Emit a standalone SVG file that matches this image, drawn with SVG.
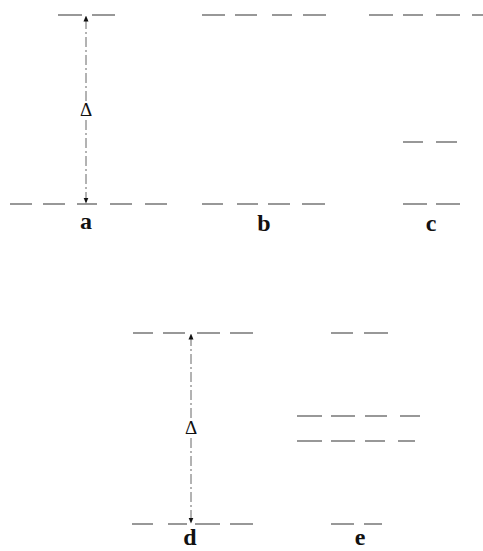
<svg xmlns="http://www.w3.org/2000/svg" width="483" height="551" viewBox="0 0 483 551">
<style>
.lv{stroke:#333;stroke-width:1.2;fill:none}
.ar{stroke:#555;stroke-width:0.9;stroke-dasharray:10 3 2 3;fill:none}
.lb{font-family:"Liberation Serif","DejaVu Serif",serif;font-size:24px;font-weight:bold;text-anchor:middle;fill:#111}
.dl{font-family:"Liberation Serif","DejaVu Serif",serif;font-size:19px;text-anchor:middle;fill:#111}
</style>
<defs>
<marker id="ah" viewBox="0 0 6 6" refX="5.5" refY="3" markerWidth="6" markerHeight="6" orient="auto-start-reverse" markerUnits="userSpaceOnUse">
<path d="M0,0.5 L6,3 L0,5.5 z" fill="#111"/>
</marker>
</defs>
<g id="a">
<path class="lv" d="M58,15H82M92,15H115"/>
<path class="lv" d="M10,204H32M43,204H65M77,204H97M110,204H132M145,204H167"/>
<text class="lb" x="86" y="229">a</text>
</g>
<g id="b">
<path class="lv" d="M202,15H225M235,15H257M272,15H292M303,15H326"/>
<path class="lv" d="M202,204H223M237,204H258M268,204H290M302,204H325"/>
<text class="lb" x="264" y="231">b</text>
</g>
<g id="c">
<path class="lv" d="M369,15H393M403,15H423M436,15H460M472,15H483"/>
<path class="lv" d="M403,142H423M436,142H457"/>
<path class="lv" d="M403,204H427M436,204H460"/>
<text class="lb" x="431" y="231">c</text>
</g>
<g id="d">
<path class="lv" d="M133,333H153M163,333H185M197,333H220M230,333H253"/>
<path class="lv" d="M132,524H153M168,524H187M195,524H220M230,524H253"/>
<text class="lb" x="190" y="545">d</text>
</g>
<g id="e">
<path class="lv" d="M331,333H353M364,333H388"/>
<path class="lv" d="M297,416H322M331,416H355M365,416H387M400,416H420"/>
<path class="lv" d="M297,441H322M331,441H355M365,441H385M398,441H415"/>
<path class="lv" d="M331,524H354M364,524H382"/>
<text class="lb" x="360" y="545">e</text>
</g>
<g id="connectors">
<path class="ar" d="M86,101V16" marker-end="url(#ah)"/>
<path class="ar" d="M86,120V203" marker-end="url(#ah)"/>
<text class="dl" x="86" y="116">Δ</text>
<path class="ar" d="M191,418V334" marker-end="url(#ah)"/>
<path class="ar" d="M191,438V523" marker-end="url(#ah)"/>
<text class="dl" x="191" y="434">Δ</text>
</g>
</svg>
